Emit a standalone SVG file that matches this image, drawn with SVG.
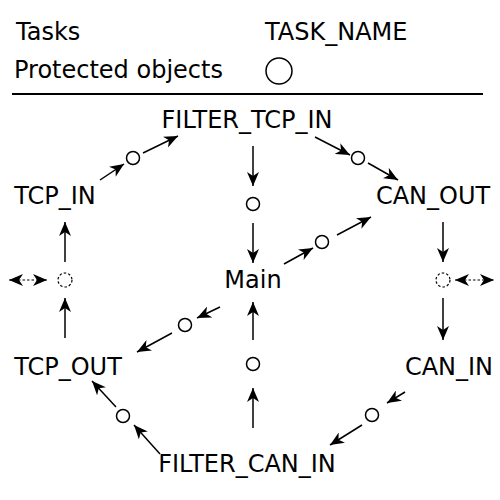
<svg xmlns="http://www.w3.org/2000/svg" width="500" height="500" viewBox="0 0 500 500">
<style>
text{font-family:"DejaVu Sans",sans-serif;font-size:24px;fill:#000}
.c{text-anchor:middle}
.obj{fill:none;stroke:#000;stroke-width:1.5}
.dash{fill:none;stroke:#000;stroke-width:1.2;stroke-dasharray:2.5,2}
.e{stroke:#000;stroke-width:1.5;fill:none;marker-end:url(#ah)}
.bi{stroke:#000;stroke-width:1.2;stroke-dasharray:2.5,2;fill:none;marker-end:url(#ah);marker-start:url(#ahs)}
</style>
<defs>
<marker id="ah" markerWidth="16" markerHeight="12" refX="14" refY="6" orient="auto" markerUnits="userSpaceOnUse">
<path d="M14,6 L0,0 L4,6 L0,12 z" fill="#000"/>
</marker>
<marker id="ahs" markerWidth="16" markerHeight="12" refX="0" refY="6" orient="auto" markerUnits="userSpaceOnUse">
<path d="M0,6 L14,0 L10,6 L14,12 z" fill="#000"/>
</marker>
</defs>
<g id="legend">
<text x="16" y="40">Tasks</text>
<text x="265" y="40">TASK_NAME</text>
<text x="14" y="78">Protected objects</text>
<circle cx="279" cy="71" r="13" class="obj"/>
<line x1="12" y1="94" x2="483" y2="94" stroke="#000" stroke-width="2"/>
</g>
<g id="FILTER_TCP_IN"><text x="247" y="128" class="c">FILTER_TCP_IN</text></g>
<g id="TCP_IN"><text x="55" y="204" class="c">TCP_IN</text></g>
<g id="CAN_OUT"><text x="433" y="204" class="c">CAN_OUT</text></g>
<g id="Main"><text x="253" y="288" class="c">Main</text></g>
<g id="TCP_OUT"><text x="68" y="375" class="c">TCP_OUT</text></g>
<g id="CAN_IN"><text x="449" y="375" class="c">CAN_IN</text></g>
<g id="FILTER_CAN_IN"><text x="247" y="472" class="c">FILTER_CAN_IN</text></g>
<g id="objects">
<circle id="o1" cx="133" cy="158" r="6.5" class="obj"/>
<circle id="o2" cx="358" cy="158" r="6.5" class="obj"/>
<circle id="o3" cx="253" cy="204" r="6.5" class="obj"/>
<circle id="o4" cx="322" cy="242" r="6.5" class="obj"/>
<circle id="o5" cx="65" cy="280" r="7" class="dash"/>
<circle id="o6" cx="443" cy="280" r="7" class="dash"/>
<circle id="o7" cx="185" cy="325" r="6.5" class="obj"/>
<circle id="o8" cx="253" cy="364" r="6.5" class="obj"/>
<circle id="o9" cx="123" cy="416" r="6.5" class="obj"/>
<circle id="o10" cx="372" cy="415" r="6.5" class="obj"/>
</g>
<g id="connectors">
<line x1="100" y1="180" x2="124" y2="164" class="e"/>
<line x1="143" y1="153" x2="178" y2="136" class="e"/>
<line x1="315" y1="137" x2="350" y2="155" class="e"/>
<line x1="368" y1="163" x2="398" y2="180" class="e"/>
<line x1="253" y1="146" x2="253" y2="186" class="e"/>
<line x1="253" y1="223" x2="253" y2="263" class="e"/>
<line x1="284" y1="264" x2="313" y2="248" class="e"/>
<line x1="337" y1="235" x2="371" y2="217" class="e"/>
<line x1="443" y1="222" x2="443" y2="262" class="e"/>
<line x1="443" y1="298" x2="443" y2="340" class="e"/>
<line x1="65" y1="338" x2="65" y2="298" class="e"/>
<line x1="65" y1="262" x2="65" y2="222" class="e"/>
<line x1="220" y1="307" x2="197" y2="318" class="e"/>
<line x1="172" y1="333" x2="137" y2="352" class="e"/>
<line x1="253" y1="428" x2="253" y2="388" class="e"/>
<line x1="253" y1="340" x2="253" y2="302" class="e"/>
<line x1="160" y1="454" x2="134" y2="425" class="e"/>
<line x1="116" y1="407" x2="92" y2="381" class="e"/>
<line x1="405" y1="392" x2="387" y2="403" class="e"/>
<line x1="362" y1="425" x2="330" y2="445" class="e"/>
<line x1="9" y1="280" x2="47" y2="280" class="bi"/>
<line x1="455" y1="280" x2="494" y2="280" class="bi"/>
</g>
</svg>
